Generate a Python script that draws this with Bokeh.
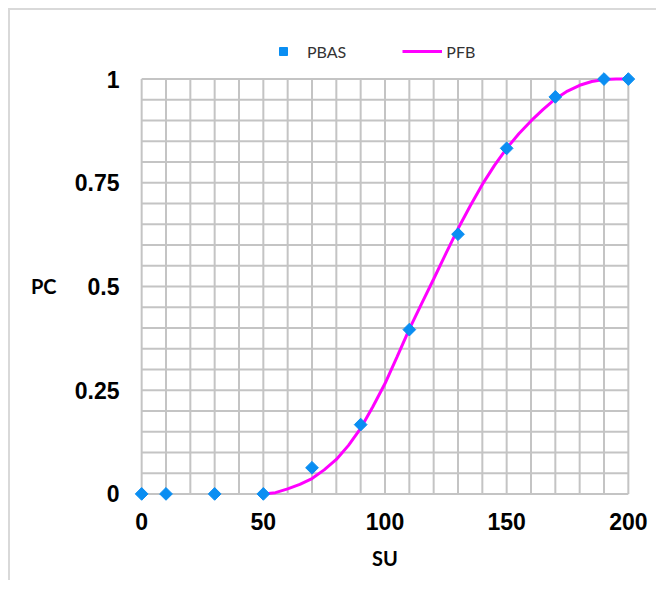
import math
from bokeh.plotting import figure
from bokeh.models import (Range1d, FixedTicker, Legend, LegendItem, LinearAxis,
                          CustomJSTickFormatter)
from bokeh.embed import file_html
from bokeh.resources import INLINE

# ---- data ----
su_points = [0, 10, 30, 50, 70, 90, 110, 130, 150, 170, 190, 200]
pbas = [0, 0, 0, 0, 0.063, 0.167, 0.396, 0.626, 0.833, 0.957, 1.0, 1.0]

su_curve = [50, 55, 60, 65, 70, 75, 80, 85, 90, 95, 100, 105, 110, 115, 120,
            125, 130, 135, 140, 145, 150, 155, 160, 165, 170, 175, 180, 185,
            190, 195, 200]
pfb = [0.0, 0.003, 0.012, 0.023, 0.037, 0.058, 0.083, 0.117, 0.158, 0.21,
       0.266, 0.331, 0.397, 0.458, 0.518, 0.579, 0.639, 0.694, 0.746, 0.792,
       0.833, 0.868, 0.899, 0.927, 0.952, 0.971, 0.985, 0.994, 0.999, 1.0, 1.0]

x_ticks = [0, 50, 100, 150, 200]
y_ticks = [0, 0.25, 0.5, 0.75, 1]
x_grid = list(range(0, 201, 10))
y_grid = [round(i * 0.05, 2) for i in range(21)]

x_title = "SU"
y_title = "PC"

# ---- figure ----
p = figure(width=648, height=572, output_backend="svg", toolbar_location=None,
           x_range=Range1d(-5, 205), y_range=Range1d(-0.04, 1.105),
           min_border_left=119, min_border_right=18,
           min_border_top=25, min_border_bottom=72)
p.styles = {"border-top": "2px solid #d9d9d9", "border-left": "2px solid #d9d9d9",
            "margin-left": "8px", "margin-top": "8px"}
p.outline_line_color = None
p.xgrid.visible = False
p.ygrid.visible = False
p.background_fill_color = "white"
p.border_fill_color = "white"

grid_color = "#c4c4c4"
p.segment(x0=x_grid, x1=x_grid, y0=[y_grid[0]] * len(x_grid), y1=[y_grid[-1]] * len(x_grid),
          line_color=grid_color, line_width=2)
p.segment(x0=[x_grid[0]] * len(y_grid), x1=[x_grid[-1]] * len(y_grid), y0=y_grid, y1=y_grid,
          line_color=grid_color, line_width=2)

line_r = p.line(su_curve, pfb, line_color="#ff00ff", line_width=3)
pt_r = p.scatter(su_points, pbas, marker="square", angle=math.pi / 4, size=9,
                 fill_color="#0a8ef2", line_color="#0a8ef2")


def style_axis(ax):
    ax.axis_line_color = None
    ax.major_tick_line_color = None
    ax.minor_tick_line_color = None
    ax.major_tick_out = 0
    ax.major_tick_in = 0
    ax.minor_tick_out = 0
    ax.minor_tick_in = 0


for ax, ticks in ((p.xaxis[0], x_ticks), (p.yaxis[0], y_ticks)):
    ax.ticker = FixedTicker(ticks=ticks)
    style_axis(ax)
    ax.major_label_text_font = "Liberation Sans"
    ax.major_label_text_font_style = "bold"
    ax.major_label_text_font_size = "23px"
    ax.major_label_text_color = "black"
    ax.formatter = CustomJSTickFormatter(code="return tick.toString()")
p.xaxis[0].major_label_standoff = 2
p.yaxis[0].major_label_standoff = 10

# x title
p.xaxis[0].axis_label = x_title
p.xaxis[0].axis_label_standoff = 13
p.xaxis[0].axis_label_text_font = "Lato"
p.xaxis[0].axis_label_text_font_style = "bold"
p.xaxis[0].axis_label_text_font_size = "20px"
p.xaxis[0].axis_label_text_color = "black"

# y title, written horizontally beside the middle tick
title_axis = LinearAxis(ticker=FixedTicker(ticks=[0.5]),
                        formatter=CustomJSTickFormatter(args=dict(t=y_title), code="return t"))
style_axis(title_axis)
title_axis.major_label_standoff = 15
title_axis.major_label_text_font = "Lato"
title_axis.major_label_text_font_style = "bold"
title_axis.major_label_text_font_size = "20px"
title_axis.major_label_text_color = "black"
p.add_layout(title_axis, "left")

legend = Legend(items=[LegendItem(label="PBAS", renderers=[pt_r]),
                       LegendItem(label="PFB", renderers=[line_r])],
                orientation="horizontal", location=(134, 449),
                glyph_width=40, glyph_height=20, label_standoff=4, spacing=56,
                padding=0, margin=0, border_line_color=None,
                background_fill_alpha=0,
                label_text_font="Lato", label_text_font_size="16px",
                label_text_color="#333333")
p.add_layout(legend, "center")

open("out.html", "w").write(file_html(p, INLINE))
